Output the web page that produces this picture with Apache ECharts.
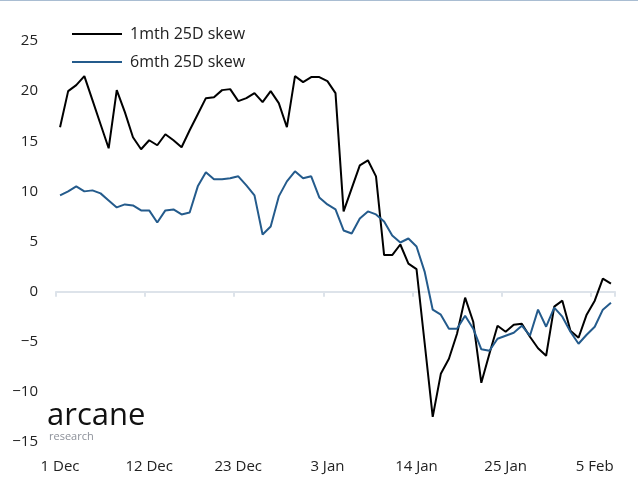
<!DOCTYPE html>
<html>
<head>
<meta charset="utf-8">
<script src="https://cdn.jsdelivr.net/npm/echarts@6/dist/echarts.min.js"></script>
<style>
  html, body { margin: 0; padding: 0; background: #fff; }
  #chart { width: 638px; height: 479px; }
</style>
</head>
<body>
<div id="chart"></div>
<script>
// daily observations, 1 Dec -> 7 Feb
const dates = [
  '1 Dec', '2 Dec', '3 Dec', '4 Dec', '5 Dec', '6 Dec', '7 Dec', '8 Dec', '9 Dec', '10 Dec',
  '11 Dec', '12 Dec', '13 Dec', '14 Dec', '15 Dec', '16 Dec', '17 Dec', '18 Dec', '19 Dec', '20 Dec',
  '21 Dec', '22 Dec', '23 Dec', '24 Dec', '25 Dec', '26 Dec', '27 Dec', '28 Dec', '29 Dec', '30 Dec',
  '31 Dec', '1 Jan', '2 Jan', '3 Jan', '4 Jan', '5 Jan', '6 Jan', '7 Jan', '8 Jan', '9 Jan',
  '10 Jan', '11 Jan', '12 Jan', '13 Jan', '14 Jan', '15 Jan', '16 Jan', '17 Jan', '18 Jan', '19 Jan',
  '20 Jan', '21 Jan', '22 Jan', '23 Jan', '24 Jan', '25 Jan', '26 Jan', '27 Jan', '28 Jan', '29 Jan',
  '30 Jan', '31 Jan', '1 Feb', '2 Feb', '3 Feb', '4 Feb', '5 Feb', '6 Feb', '7 Feb'
]

const skew1m = [
  16.4, 20.0, 20.6, 21.5, 19.1, 16.7, 14.3, 20.1, 17.9, 15.4,
  14.2, 15.1, 14.6, 15.7, 15.1, 14.4, 16.1, 17.7, 19.3, 19.4,
  20.1, 20.2, 19.0, 19.3, 19.8, 18.9, 20.0, 18.8, 16.4, 21.5,
  20.9, 21.4, 21.4, 21.0, 19.8, 8.0, 10.3, 12.6, 13.1, 11.5,
  3.65, 3.65, 4.7, 2.8, 2.25, -5.1, -12.5, -8.2, -6.7, -4.2,
  -0.6, -3.0, -9.1, -6.2, -3.4, -4.0, -3.3, -3.2, -4.5, -5.65,
  -6.4, -1.5, -0.9, -3.9, -4.6, -2.3, -0.9, 1.3, 0.8
]

const skew6m = [
  9.6, 10.0, 10.5, 10.0, 10.1, 9.8, 9.1, 8.4, 8.7, 8.6,
  8.1, 8.1, 6.9, 8.1, 8.2, 7.7, 7.9, 10.5, 11.9, 11.2,
  11.2, 11.3, 11.5, 10.6, 9.6, 5.7, 6.5, 9.5, 11.0, 12.0,
  11.3, 11.5, 9.4, 8.7, 8.2, 6.1, 5.8, 7.3, 8.0, 7.7,
  7.0, 5.6, 4.9, 5.3, 4.5, 2.0, -1.8, -2.3, -3.7, -3.7,
  -2.4, -3.7, -5.75, -5.9, -4.7, -4.4, -4.1, -3.4, -4.4, -1.8,
  -3.5, -1.6, -2.5, -4.0, -5.2, -4.3, -3.5, -1.8, -1.1
]

const seriesNames = ['1mth 25D skew', '6mth 25D skew']

const textColor = '#222'
const fontFamily = 'Open Sans'

const chart = echarts.init(document.getElementById('chart'))

chart.setOption({
  animation: false,
  textStyle: { fontFamily },
  grid: { left: 56, right: 23, top: 41, bottom: 37, outerBoundsMode: 'none' },
  legend: {
    orient: 'vertical',
    left: 72,
    top: 24,
    padding: 0,
    icon: 'rect',
    itemWidth: 50,
    itemHeight: 2,
    itemGap: 8,
    textStyle: { color: textColor, fontSize: 16, fontFamily, padding: [0, 0, 0, 3], lineHeight: 20 }
  },
  xAxis: [
    {
      // zero line with ticks, no labels
      type: 'category',
      position: 'bottom',
      data: dates,
      boundaryGap: true,
      axisLine: { onZero: true, lineStyle: { color: '#dde3ea', width: 2 } },
      axisTick: { show: true, interval: 10, length: 5, lineStyle: { color: '#dde3ea', width: 2 } },
      axisLabel: { show: false },
      splitLine: { show: false }
    },
    {
      // date labels at the bottom
      type: 'category',
      position: 'bottom',
      data: dates,
      boundaryGap: true,
      axisLine: { show: false, onZero: false },
      axisTick: { show: false },
      axisLabel: { interval: 10, margin: 17, color: textColor, fontSize: 15, fontFamily },
      splitLine: { show: false }
    }
  ],
  yAxis: {
    type: 'value',
    min: -15,
    max: 25,
    interval: 5,
    axisLine: { show: false },
    axisTick: { show: false },
    splitLine: { show: false },
    axisLabel: {
      margin: 18,
      color: textColor,
      fontSize: 15,
      fontFamily,
      formatter: v => String(v).replace('-', '\u2212')
    }
  },
  series: [
    {
      name: seriesNames[0],
      type: 'line',
      data: skew1m,
      symbol: 'none',
      lineStyle: { color: '#000', width: 2 },
      itemStyle: { color: '#000' }
    },
    {
      name: seriesNames[1],
      type: 'line',
      data: skew6m,
      symbol: 'none',
      lineStyle: { color: '#245b8c', width: 2 },
      itemStyle: { color: '#245b8c' }
    }
  ],
  graphic: [
    {
      type: 'rect',
      left: 0,
      top: 0,
      shape: { width: 638, height: 1 },
      style: { fill: '#a9bdd2' }
    },
    {
      type: 'text',
      left: 47,
      top: 401,
      style: { text: 'arcane', fill: '#111', font: '31px "Open Sans"' }
    },
    {
      type: 'text',
      left: 49,
      top: 431,
      style: { text: 'research', fill: '#8c9099', font: '11px "Open Sans"' }
    }
  ]
})
</script>
</body>
</html>
